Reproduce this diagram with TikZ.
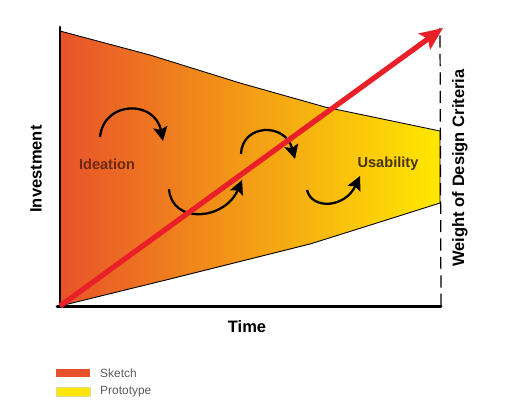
\documentclass[tikz,border=0pt]{standalone}
\usepackage{fontspec}
\setmainfont{Liberation Sans}
\usetikzlibrary{arrows.meta}
\definecolor{sketch}{RGB}{232,82,42}
\definecolor{proto}{RGB}{255,232,0}
\definecolor{trend}{RGB}{234,32,40}
\definecolor{ideatxt}{RGB}{110,40,20}
\definecolor{usetxt}{RGB}{70,50,15}
\definecolor{legtxt}{RGB}{90,90,90}

\begin{document}
\begin{tikzpicture}[x=0.02cm, y=-0.02cm,
  axis/.style={line width=1.7pt, line cap=round},
  loop/.style={-{Stealth[length=8pt, width=8pt, inset=1.5pt]}, line width=1.3pt, black},
  rise/.style={-{Stealth[length=13pt, width=11pt, inset=2.5pt]}, line width=3pt, trend},
  lbl/.style={font=\bfseries\fontsize{9.4}{11}\selectfont},
  stage/.style={font=\bfseries\fontsize{8.3}{10}\selectfont},
  key/.style={minimum width=0.68cm, minimum height=0.17cm, inner sep=0pt},
  keytxt/.style={font=\fontsize{6.8}{8}\selectfont, text=legtxt, anchor=west}]

\useasboundingbox (0,0) rectangle (511,414);

% frame points
\coordinate (o) at (60,306);
\coordinate (ytop) at (60,27);
\coordinate (xend) at (441,306);
\coordinate (dtop) at (440,28);
\coordinate (tip) at (443,28);

% investment funnel, sketch to prototype
\shade[left color=sketch, right color=proto, draw=black, line width=0.5pt]
  (60,31) -- (150,55) -- (240,83) -- (325,107) -- (440,131)
  -- (440,203) -- (380,222) -- (310,244) -- (170,279) -- (60,306) -- cycle;

% axes
\draw[axis] (o) -- (ytop);
\draw[axis] (57,306) -- (xend);
\draw[dashed, line width=0.7pt, dash pattern=on 7pt off 3.5pt] (xend) -- (dtop);

% iteration loops
\draw[loop] (100,137) .. controls (104,100) and (155,100) .. (163,141);
\draw[loop] (169,189) .. controls (172,225) and (225,220) .. (242,180);
\draw[loop] (241,154) .. controls (242,124) and (285,122) .. (295,159);
\draw[loop] (307,190) .. controls (312,210) and (345,208) .. (360,176);

% weight of design criteria
\draw[rise] (o) -- (tip);

\node[stage, text=ideatxt] (idea) at (107,164) {Ideation};
\node[stage, text=usetxt] (usab) at (388,164) {Usability};

\node[lbl] (time) at (247,327) {Time};
\node[lbl, rotate=90] (inv) at (36,169) {Investment};
\node[lbl, rotate=90] (wdc) at (460,168) {Weight of Design Criteria};

% legend
\node[key, fill=sketch] (k1) at (73,373) {};
\node[keytxt] (t1) at (94,373) {Sketch};
\node[key, fill=proto, draw=proto!70!black!40, line width=0.3pt] (k2) at (73,392) {};
\node[keytxt] (t2) at (94,392) {Prototype};
\end{tikzpicture}
\end{document}
